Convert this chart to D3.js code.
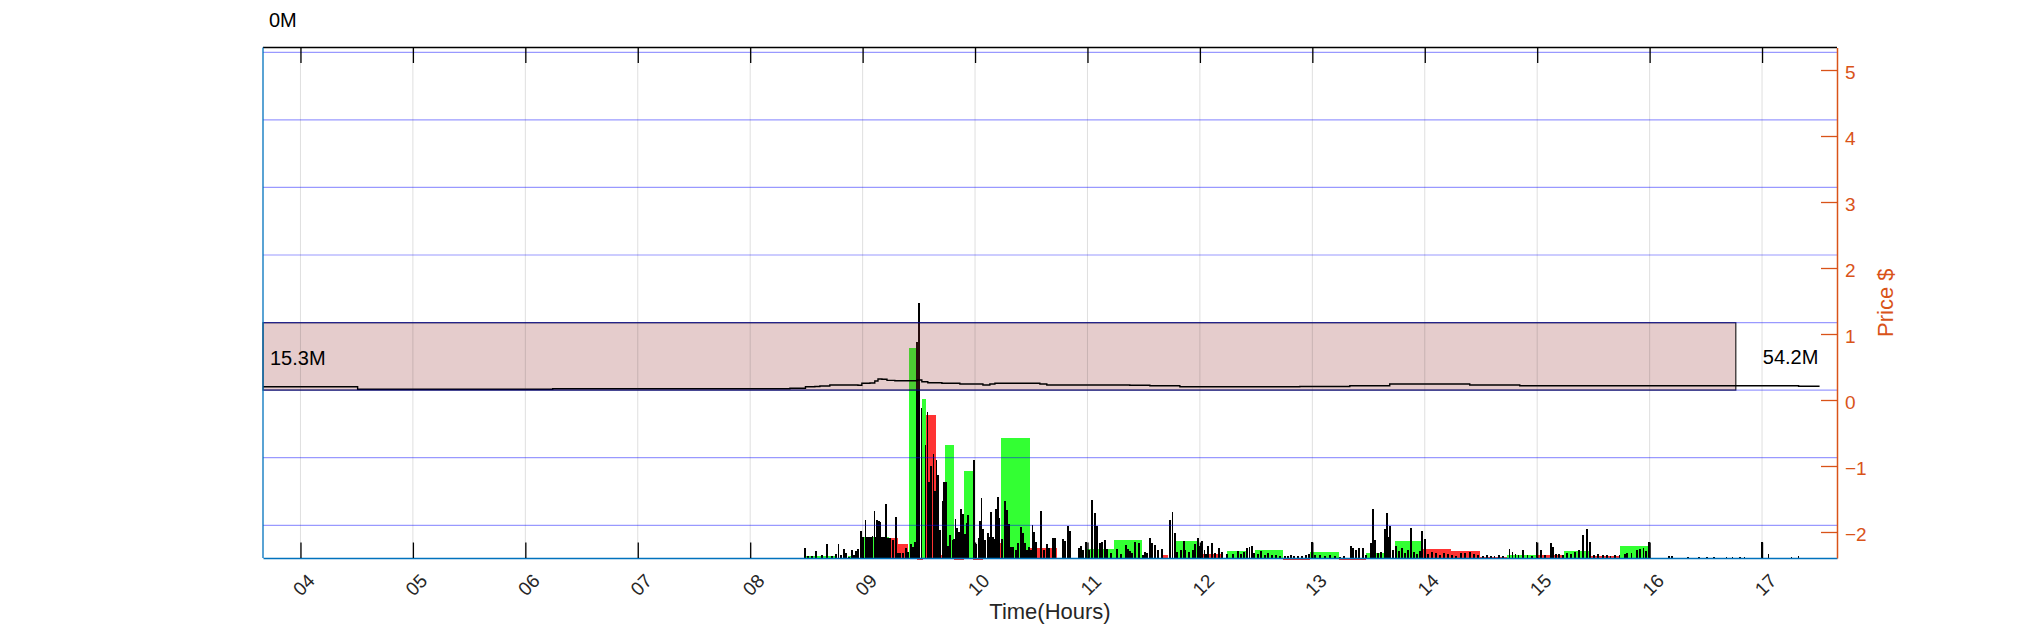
<!DOCTYPE html>
<html><head><meta charset="utf-8">
<script src="https://cdn.jsdelivr.net/npm/d3@7"></script>
<style>body{margin:0;background:#fff;} svg{display:block;font-family:"Liberation Sans",Arial,Helvetica,sans-serif;}</style>
</head><body><svg id="c" width="2031" height="625"></svg>
<script>
// ---------- DATA ----------
// times are minutes since midnight
const hourTicks = [4,5,6,7,8,9,10,11,12,13,14,15,16,17];
const hourLabels = ["04","05","06","07","08","09","10","11","12","13","14","15","16","17"];
const priceTicks = [-2,-1,0,1,2,3,4,5];
const volGrid = [32.7,100.3,167.9,235.4,303.0,370.6,438.1,505.7];
const topLabel = "0M";
const boxLabels = ["15.3M","54.2M"];
const boxTime = [220, 1006];
const boxPrice = [0.15, 1.171];

// price (step after)
const priceSeries = [[220,0.20],[270.5,0.162],[374.6,0.171],[501.2,0.177],[509.5,0.20],[514.5,0.205],[517.2,0.212],[522.5,0.227],[537.5,0.223],[539.6,0.253],[543.9,0.258],[546.5,0.288],[548.2,0.318],[550.3,0.314],[553.0,0.298],[557.2,0.292],[569.0,0.303],[571.6,0.277],[574.8,0.262],[582.3,0.253],[591.9,0.242],[604.2,0.227],[607.9,0.242],[610.6,0.253],[634.6,0.242],[638.3,0.227],[682.6,0.223],[693.3,0.217],[709.3,0.20],[773.3,0.205],[800.0,0.215],[821.3,0.242],[864.0,0.227],[890.7,0.217],[1039.5,0.208],[1050.7,0.208]];

// 5-min style blocks [start, end, volume]
const upBlocks = [[509,525,2],[532,537,2],[539,554,21.3],[565,569.5,210],[571.5,574,159],[583.9,588.7,113],[594.1,598.7,87],[613.8,629.3,120],[659,674,9],[674,689,18],[707,718.5,17],[734.4,745.6,7],[749.3,764.2,8],[779,794.1,6],[808.9,818.1,5],[824,838.7,17],[883.7,899.2,3],[914.2,928.9,7],[944,959.6,12]];
const downBlocks = [[554,559,20.3],[559,564.2,14],[574,579.3,143],[579.6,582.3,2.7],[569,572.2,-2],[588.7,594,-2],[598.8,604.2,-2],[611.7,613.8,15],[629.3,643.7,10],[700.2,703,2.7],[718.5,732.3,4],[764.2,779,-2],[794.3,808.9,-2],[838.7,854.2,9.3],[854.2,869.3,7],[869.3,883.7,1.3],[899.2,913.6,3],[928.9,943.7,2.3]];

// minute bars [minute, volume]
const barsPre = [[509.2,10],[510.8,2],[512.9,2],[515.3,7.3],[518.3,3],[520.9,13.7],[523.6,2],[525.7,4],[527.1,13.7],[528.4,3],[530.0,8.7],[531.1,4.7],[532.7,1.3],[534.3,8],[535.3,3],[536.4,7.3],[537.5,8.7],[539.3,27],[540.2,21],[541.5,37.7],[542.3,21],[543.4,21],[544.4,21],[545.2,22],[546.3,47],[547.1,21],[547.6,38],[548.7,37],[549.5,35.7],[550.3,21],[551.4,21],[552.4,54],[553.5,20],[554.6,20],[556.2,18],[557.8,41],[558.8,5],[559.9,5],[561.5,5],[563.1,10],[564.2,6],[565.8,14],[566.8,11],[567.9,16],[569.0,216]];
const barsOpen = [[570.2,255],[571.4,150],[573.5,113],[574.6,146],[575.4,76],[576.4,92],[577.8,104],[578.6,67],[579.5,98],[580.2,83],[581.2,28],[582.6,57],[583.4,76],[584.4,76],[585.5,12],[586.8,23],[587.9,18],[588.7,19],[589.5,39],[590.3,30],[591.4,26],[592.4,49],[593.5,44],[594.6,24],[595.6,35],[596.4,43],[599.6,98],[600.7,14],[601.8,20],[602.6,37],[603.4,60],[604.2,29],[605.2,18],[606.8,25],[607.6,21],[608.4,46],[609.5,21],[610.3,19],[611.1,49],[612.2,61],[613.0,40],[614.3,19],[615.9,57],[617.2,48],[618.3,34],[619.1,11],[620.2,11],[621.8,8],[622.8,15],[624.4,31],[625.5,25],[626.6,15],[627.6,8],[628.7,11],[629.8,8],[630.6,33],[631.4,26],[632.5,16],[635.1,47],[636.7,8],[638.3,14],[639.4,10],[641.5,20],[642.6,20],[646.9,19],[647.9,17],[649.5,32],[650.6,27],[655.4,10],[656.5,12],[657.5,8],[659.1,16]];
const barsMid = [[660.7,8],[662.3,58],[663.9,45],[665.0,32],[666.6,15],[667.7,16],[669.3,18],[670.6,9],[672.7,5],[675.7,9],[677.8,4],[680.5,13],[681.5,9],[682.6,7],[683.7,5],[685.5,16],[687.4,15],[689.5,3],[690.6,6],[691.9,5],[693.5,20],[694.3,15],[695.9,13],[697.5,8],[699.7,9],[703.9,38],[705.3,46],[706.6,25],[707.7,6],[709.8,8],[711.4,17],[712.2,8],[714.1,6],[716.2,8],[717.5,14],[718.9,20],[720.2,12],[721.0,17],[722.4,8],[723.4,4],[724.5,12],[726.4,15],[728.0,5],[730.1,10],[731.7,6],[734.4,4],[737.6,4],[740.2,7],[741.8,4],[743.4,6],[745.3,10],[746.4,11],[747.7,12],[748.8,5],[750.9,4],[752.5,7],[754.6,3],[756.2,4.7],[758.4,3],[760.5,3],[762.6,2],[765.3,2],[766.9,2],[768.5,3],[770.1,2],[772.2,2],[774.4,2],[776.5,3],[778.1,4],[779.7,16],[781.3,3],[784.0,3],[786.6,2],[789.3,3],[792.0,2],[794.6,1],[796.8,2]];
const barsAfternoon = [[800.5,12],[801.8,10],[803.2,8],[804.8,10],[806.9,10],[808.5,3],[811.2,15],[812.5,49],[813.6,18],[814.9,5],[816.5,6],[818.7,29],[819.7,45],[820.8,21],[821.6,32],[822.9,8],[824.5,12],[826.1,7],[827.7,10],[829.3,5],[830.9,8],[832.5,30],[834.1,6],[835.7,4],[837.3,7],[838.4,27],[840.3,19],[841.6,4],[843.7,6],[845.9,5],[848.0,3],[850.1,5],[852.3,4],[854.4,3],[856.5,2],[859.2,5],[861.3,5],[864.0,6],[866.1,4],[868.3,3],[870.9,2],[873.1,3],[875.2,2],[877.3,2],[879.5,3],[881.6,2],[885.3,9],[886.9,6],[888.5,4],[890.1,3],[892.3,8],[894.9,3],[897.1,2],[899.7,16],[901.9,8],[904.0,3],[907.2,15],[908.3,11],[909.9,4],[911.5,4],[913.6,3],[915.8,5],[917.9,4],[920.0,6],[922.2,8],[924.6,23],[926.7,29],[928.0,16],[930.2,3],[932.3,4],[935.0,3],[937.1,3],[939.2,2],[941.4,3],[944.0,3],[946.7,4],[947.8,5],[950.4,5],[953.1,8],[954.7,9],[956.8,10],[957.9,7],[959.5,16]];
const barsPost = [[970.2,2],[971.8,2],[980.3,1.5],[986.2,1.5],[990.5,1.5],[994.2,1.5],[1001.1,1.5],[1004.3,1.5],[1008.1,1.5],[1010.7,1.5],[1019.8,16],[1023.5,4],[1035.8,1.5],[1039.5,2]];

// ---------- CHART ----------
const svg = d3.select("#c");
const L = 263, R = 1837, T = 47.5, B = 558;
const xs = d3.scaleLinear().domain([220, 1060]).range([L, R]);
const ps = d3.scaleLinear().domain([-2.394, 5.341]).range([B, T]);
const vs = d3.scaleLinear().domain([0, 510.5]).range([B, T]);
const orange = "#D95319", axBlue = "#0072BD";

// blocks
const blocks = svg.append("g").attr("shape-rendering", "crispEdges");
function drawBlocks(data, color) {
  blocks.selectAll(null).data(data).enter().append("rect")
    .attr("x", d => xs(d[0])).attr("width", d => Math.max(0.8, xs(d[1]) - xs(d[0])))
    .attr("y", d => Math.min(vs(d[2]), vs(0))).attr("height", d => Math.abs(vs(0) - vs(d[2])))
    .attr("fill", color);
}
drawBlocks(upBlocks, "#33FF33");
drawBlocks(downBlocks, "#FF3333");

// minute bars
const allBars = [].concat(barsPre, barsOpen, barsMid, barsAfternoon, barsPost);
const bw = (xs(1) - xs(0)) * 0.9;
svg.append("g").attr("shape-rendering", "crispEdges").selectAll("rect").data(allBars).enter().append("rect")
  .attr("x", d => xs(d[0]) - bw / 2).attr("width", bw)
  .attr("y", d => vs(d[1])).attr("height", d => vs(0) - vs(d[1]))
  .attr("fill", "#000");

// translucent range box
svg.append("rect")
  .attr("x", xs(boxTime[0])).attr("width", xs(boxTime[1]) - xs(boxTime[0]))
  .attr("y", ps(boxPrice[1])).attr("height", ps(boxPrice[0]) - ps(boxPrice[1]))
  .attr("fill", "rgb(153,51,51)").attr("fill-opacity", 0.25)
  .attr("stroke", "#000").attr("stroke-opacity", 0.85).attr("stroke-width", 1.2);

// price line
svg.append("path").datum(priceSeries)
  .attr("d", d3.line().x(d => xs(d[0])).y(d => ps(d[1])).curve(d3.curveStepAfter))
  .attr("fill", "none").attr("stroke", "#000").attr("stroke-width", 1.4);

// grid lines
svg.append("g").selectAll("line").data(hourTicks).enter().append("line")
  .attr("x1", d => xs(d * 60)).attr("x2", d => xs(d * 60)).attr("y1", T).attr("y2", B)
  .attr("stroke", "rgb(38,38,38)").attr("stroke-opacity", 0.15).attr("stroke-width", 1);
svg.append("g").selectAll("line").data(volGrid).enter().append("line")
  .attr("x1", L).attr("x2", R).attr("y1", d => vs(d)).attr("y2", d => vs(d))
  .attr("stroke", "#0000FF").attr("stroke-opacity", 0.4).attr("stroke-width", 1.2);

// box labels
const boxMid = (ps(boxPrice[0]) + ps(boxPrice[1])) / 2;
svg.append("text").attr("x", xs(boxTime[0]) + 7).attr("y", boxMid + 8.5)
  .attr("font-size", 20).attr("fill", "#000").text(boxLabels[0]);
svg.append("text").attr("x", xs(boxTime[1]) + 27).attr("y", boxMid + 8)
  .attr("font-size", 20).attr("fill", "#000").text(boxLabels[1]);

// top border
svg.append("line").attr("x1", L).attr("x2", R).attr("y1", T).attr("y2", T)
  .attr("stroke", "#000").attr("stroke-width", 1.3);
// top ticks
const topAx = svg.append("g").attr("transform", `translate(0,${T})`)
  .call(d3.axisTop(xs).tickValues(hourTicks.map(h => h * 60)).tickSizeInner(-15.5).tickSizeOuter(0).tickFormat(""));
topAx.select(".domain").remove();
topAx.selectAll(".tick line").attr("stroke", "#000").attr("stroke-width", 1.3);

// left axis line
svg.append("line").attr("x1", L).attr("x2", L).attr("y1", T).attr("y2", B)
  .attr("stroke", axBlue).attr("stroke-width", 1.3);

// bottom axis
const botAx = svg.append("g").attr("transform", `translate(0,${B})`)
  .call(d3.axisBottom(xs).tickValues(hourTicks.map(h => h * 60)).tickSizeInner(-15.5).tickSizeOuter(0)
    .tickFormat((d, i) => hourLabels[i]));
botAx.select(".domain").attr("stroke", axBlue).attr("stroke-width", 1.5);
botAx.selectAll(".tick line").attr("stroke", "#000").attr("stroke-width", 1.3);
botAx.selectAll(".tick text")
  .attr("font-size", 19).attr("font-family", "'Liberation Sans',Arial,sans-serif")
  .attr("fill", "#262626").attr("text-anchor", "middle").attr("dy", null)
  .attr("dominant-baseline", "central")
  .attr("y", null)
  .attr("transform", "translate(3,27) rotate(-45)");

// right axis
const rAx = svg.append("g").attr("transform", `translate(${R},0)`)
  .call(d3.axisRight(ps).tickValues(priceTicks).tickSizeInner(-16).tickSizeOuter(0).tickPadding(8).tickFormat(d3.format("d")));
rAx.select(".domain").attr("stroke", orange).attr("stroke-width", 1.5);
rAx.selectAll(".tick line").attr("stroke", orange).attr("stroke-width", 1.3);
rAx.selectAll(".tick text").attr("fill", orange).attr("font-size", 19)
  .attr("font-family", "'Liberation Sans',Arial,sans-serif").attr("dy", null).attr("y", 8.5)
  .attr("dominant-baseline", "auto");

// axis titles
svg.append("text").attr("transform", `translate(1893,${(T + B) / 2}) rotate(-90)`)
  .attr("text-anchor", "middle").attr("font-size", 22).attr("fill", orange).text("Price $");
svg.append("text").attr("x", (L + R) / 2).attr("y", 619).attr("text-anchor", "middle")
  .attr("font-size", 22).attr("fill", "#262626").text("Time(Hours)");
svg.append("text").attr("x", 269).attr("y", 27).attr("font-size", 20).attr("fill", "#000").text(topLabel);
</script>
</body></html>
